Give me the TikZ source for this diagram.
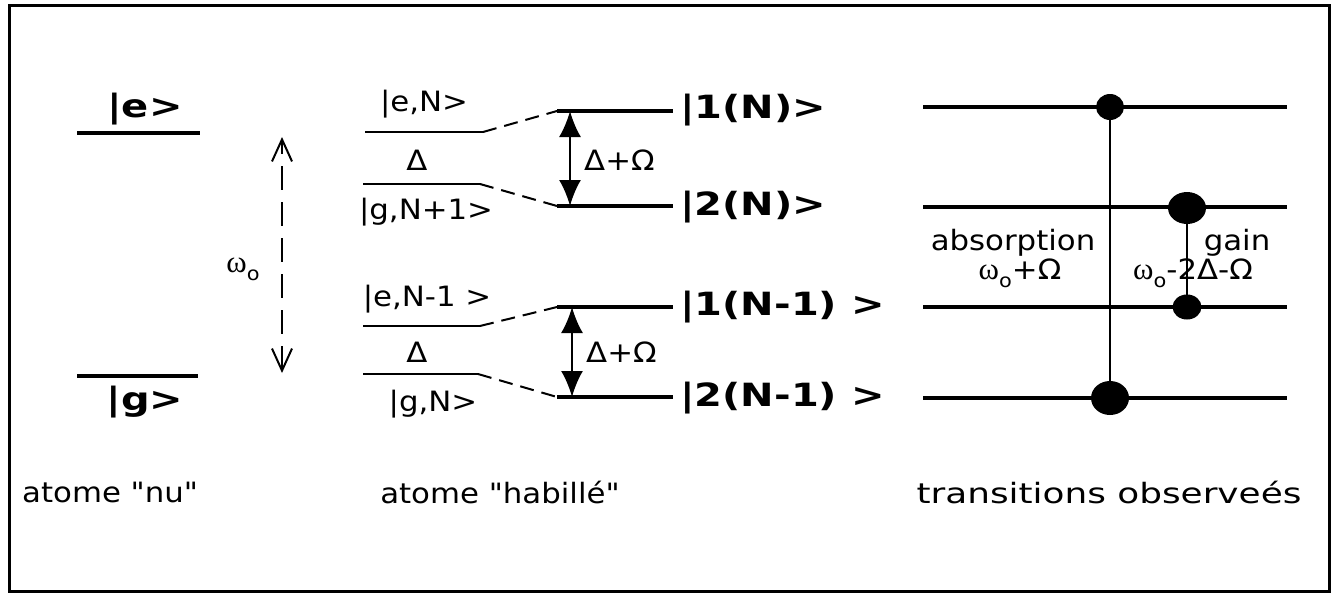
\documentclass[tikz,border=0pt]{standalone}
\usepackage{fontspec}
\setmainfont{DejaVu Sans}[FakeStretch=1.1, Ligatures=TeXOff]
\newfontfamily\bigfont{DejaVu Sans}[FakeStretch=1.25, Ligatures=TeXOff]
\newfontfamily\widefont{DejaVu Sans}[FakeStretch=1.28, Ligatures=TeXOff]
\newfontfamily\grk{Liberation Serif}
\usetikzlibrary{arrows.meta,shapes.geometric}
\newcommand{\wo}{{\grk\fontsize{31}{32}\selectfont ω}\raisebox{-0.28em}{\fontsize{19}{20}\selectfont o}}
\tikzset{
  lvl/.style={line width=4pt},
  thinlvl/.style={line width=2.2pt},
  slant/.style={line width=2pt, dash pattern=on 14pt off 8pt},
  txt/.style={inner sep=0pt, font=\fontsize{28}{32}\selectfont},
  bigtxt/.style={inner sep=0pt, font=\fontsize{32}{36}\bigfont\bfseries},
  dot/.style={fill=black, draw=none, ellipse, inner sep=0pt},
  dblarrow/.style={line width=2.2pt, {Latex[length=26pt,width=22pt]}-{Latex[length=26pt,width=22pt]}},
}
\begin{document}
\begin{tikzpicture}[x=1pt,y=-1pt]
\useasboundingbox (0,0) rectangle (1332,594);
\draw[line width=3pt] (9,6) rectangle (1329,591);

% ---------------- left: bare atom
\coordinate (eL) at (77,133); \coordinate (eR) at (200,133);
\coordinate (gL) at (77,376); \coordinate (gR) at (198,376);
\draw[lvl] (eL) -- (eR);
\draw[lvl] (gL) -- (gR);
\node[bigtxt] (le) at (145,109) {|e>};
\node[bigtxt] (lg) at (145,402) {|g>};
\coordinate (wtop) at (282,137); \coordinate (wbot) at (282,373);
\draw[line width=2pt, dash pattern=on 24pt off 12pt,
  {Straight Barb[length=22pt,width=20pt]}-{Straight Barb[length=22pt,width=20pt]}] (wbot) -- (wtop);
\node[inner sep=0pt, font=\fontsize{28}{32}\selectfont] (w0) at (243,269) {\wo};

% ---------------- middle: dressed atom, upper multiplicity
\coordinate (a1) at (365,132); \coordinate (a2) at (483,132);
\coordinate (b1) at (363,184); \coordinate (b2) at (480,184);
\coordinate (u1L) at (557,111); \coordinate (u1R) at (673,111);
\coordinate (u2L) at (557,206); \coordinate (u2R) at (673,206);
\draw[thinlvl] (a1) -- (a2);
\draw[thinlvl] (b1) -- (b2);
\draw[slant] (a2) -- (u1L);
\draw[slant] (b2) -- (u2L);
\draw[lvl] (u1L) -- (u1R);
\draw[lvl] (u2L) -- (u2R);
\node[txt] (eN) at (424,104) {|e,N>};
\node[txt] (d1) at (417,160) {Δ};
\node[txt] (gN1) at (426,212) {|g,N+1>};
\coordinate (ar1t) at (570,111); \coordinate (ar1b) at (570,206);
\draw[dblarrow] (ar1t) -- (ar1b);
\node[txt, anchor=west] (dO1) at (584,160) {Δ+Ω};
\node[bigtxt, anchor=west] (s1N) at (680,110) {|1(N)>};
\node[bigtxt, anchor=west] (s2N) at (680,207) {|2(N)>};

% ---------------- middle: lower multiplicity
\coordinate (c1) at (363,326); \coordinate (c2) at (480,326);
\coordinate (d1a) at (363,374); \coordinate (d2a) at (478,374);
\coordinate (v1L) at (557,307); \coordinate (v1R) at (673,307);
\coordinate (v2L) at (557,397); \coordinate (v2R) at (673,397);
\draw[thinlvl] (c1) -- (c2);
\draw[thinlvl] (d1a) -- (d2a);
\draw[slant] (c2) -- (v1L);
\draw[slant] (d2a) -- (v2L);
\draw[lvl] (v1L) -- (v1R);
\draw[lvl] (v2L) -- (v2R);
\node[txt] (eN1) at (427,299) {|e,N-1 >};
\node[txt] (d2) at (417,352) {Δ};
\node[txt] (gN) at (433,404) {|g,N>};
\coordinate (ar2t) at (572,307); \coordinate (ar2b) at (572,397);
\draw[dblarrow] (ar2t) -- (ar2b);
\node[txt, anchor=west] (dO2) at (586,352) {Δ+Ω};
\node[bigtxt, anchor=west] (s1N1) at (680,307) {|1(N-1) >};
\node[bigtxt, anchor=west] (s2N1) at (680,398) {|2(N-1) >};

% ---------------- right: observed transitions
\foreach \n/\y in {r1/107, r2/207, r3/307, r4/398}{
  \coordinate (\n L) at (923,\y); \coordinate (\n R) at (1287,\y);
  \draw[lvl] (\n L) -- (\n R);
}
\node[dot, minimum width=28pt, minimum height=26pt] (p1) at (1110,107) {};
\node[dot, minimum width=38pt, minimum height=34pt] (p4) at (1110,398) {};
\node[dot, minimum width=38pt, minimum height=32pt] (q2) at (1187,208) {};
\node[dot, minimum width=29pt, minimum height=25pt] (q3) at (1187,307) {};
\draw[line width=2pt] (p1.center) -- (p4.center);
\draw[line width=2pt] (q2.center) -- (q3.center);
\node[txt] (abs) at (1013,243) {absorption};
\node[txt] (absw) at (1020,273) {\wo+Ω};
\node[txt] (gain) at (1237,243) {gain};
\node[txt] (gainw) at (1193,273) {\wo-2Δ-Ω};

% ---------------- captions
\node[txt, anchor=west] (cap1) at (22,492) {atome "nu"};
\node[txt] (cap2) at (500,492) {atome "habillé"};
\node[txt, font=\fontsize{28}{32}\widefont] (cap3) at (1109,492) {transitions observeés};
\end{tikzpicture}
\end{document}
